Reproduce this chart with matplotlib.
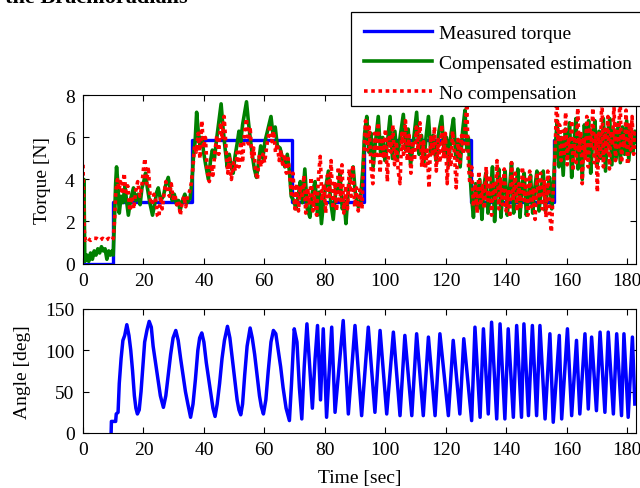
import matplotlib
matplotlib.use("Agg")
import matplotlib.pyplot as plt
from matplotlib.patches import Rectangle
import numpy as np

plt.rcParams["font.family"] = ["Liberation Serif", "DejaVu Serif"]
plt.rcParams["font.size"] = 14

# measured torque: step levels [N] and the times where each level starts [sec]
step_t = [0.0, 10.0, 36.0, 69.0, 93.0, 128.3, 156.0, 183.0]
step_v = [0.0, 2.95, 5.9, 2.95, 5.9, 2.95, 5.9, 5.9]

# compensated estimation (green)
green_t = [
    0.0, 0.3, 0.6, 1.3, 1.9, 2.5, 3.1, 3.7, 4.3, 4.9, 5.5, 6.1, 6.7, 7.3, 7.9, 8.5, 9.1, 9.6, 10.0,
    10.4, 10.8, 11.1, 11.5, 12.0, 12.6, 13.2, 13.9, 14.4, 15.0, 15.8, 16.7, 17.4, 18.2, 18.9, 19.5,
    20.1, 20.7, 21.3, 22.1, 23.0, 23.8, 24.4, 24.9, 25.7, 26.6, 27.3, 28.2, 28.9, 29.5, 30.2, 31.0,
    31.6, 32.1, 32.9, 33.7, 34.5, 35.4, 36.0,
    36.6, 37.1, 37.6, 38.2, 38.8, 39.4, 39.9, 40.6, 41.5, 42.2, 42.8, 43.5, 44.2, 45.0, 45.7, 46.3,
    47.0, 47.7, 48.4, 49.0, 49.7, 50.3, 51.0, 51.6, 52.2, 52.8, 53.4, 54.1, 54.7, 55.3, 56.0, 56.7,
    57.4, 58.1, 58.8, 59.5, 60.2, 61.2, 62.2, 62.9, 63.6, 64.3, 65.2, 66.0, 66.8, 67.6, 68.3, 68.9,
    69.7, 70.5, 71.2, 71.9, 72.6, 73.4, 74.2, 75.1, 75.9, 76.8, 77.6, 78.2, 78.9, 79.7, 80.5, 81.2,
    82.0, 82.8, 83.7, 84.4, 85.0, 85.8, 86.4, 87.0, 87.8, 88.6, 89.4, 90.2, 91.1, 91.8, 92.6,
    93.2, 93.9, 94.6, 95.3, 96.0, 96.8, 97.7, 98.5, 99.2, 99.9, 100.7, 101.6, 102.4, 103.2, 104.0,
    105.0, 106.0, 106.8, 107.6, 108.4, 109.4, 110.4, 111.2, 112.0, 112.8, 113.5, 114.3, 115.1, 115.9,
    116.8, 117.8, 118.7, 119.5, 120.3, 121.0, 121.8, 122.6, 123.4, 124.1, 124.8, 125.6, 126.4, 127.0,
    127.5, 128.0,
    128.5, 129.2, 129.9, 130.6, 131.3, 132.0, 132.6, 133.3, 134.0, 134.8, 135.5, 136.2, 136.9, 137.6,
    138.3, 139.0, 139.7, 140.4, 141.1, 141.8, 142.5, 143.2, 143.9, 144.6, 145.3, 146.0, 146.7, 147.4,
    148.1, 148.8, 149.5, 150.2, 150.9, 151.6, 152.3, 153.0, 153.7, 154.4, 155.1, 155.7,
    156.3, 156.9, 157.5, 158.2, 158.9, 159.6, 160.3, 161.0, 161.7, 162.4, 163.1, 163.8, 164.5, 165.2,
    165.9, 166.6, 167.3, 168.0, 168.7, 169.4, 170.1, 170.8, 171.5, 172.2, 172.9, 173.6, 174.3, 175.0,
    175.7, 176.4, 177.1, 177.8, 178.5, 179.2, 179.9, 180.6, 181.3, 182.0, 182.6, 183.0,
]
green_v = [
    0.2, 4.0, 0.1, 0.4, 0.1, 0.5, 0.2, 0.6, 0.4, 0.7, 0.5, 0.8, 0.6, 0.7, 0.2, 0.6, 0.4, 0.6, 0.4,
    2.0, 3.8, 4.6, 3.9, 2.4, 3.2, 2.9, 3.7, 3.0, 2.3, 3.1, 3.6, 3.0, 3.3, 2.8, 3.6,
    3.9, 4.3, 3.6, 2.9, 2.3, 2.9, 3.4, 3.6, 3.0, 3.2, 3.7, 4.1, 3.5, 3.0, 3.3, 2.8,
    3.0, 2.5, 3.0, 3.3, 2.9, 3.1, 3.8,
    5.2, 5.8, 7.2, 6.2, 5.6, 6.0, 5.3, 4.7, 4.0, 4.9, 5.4, 5.0, 5.9, 6.8, 7.6, 6.5,
    5.5, 4.6, 5.2, 4.6, 4.3, 5.1, 5.7, 6.3, 5.8, 6.6, 7.1, 7.7, 6.8, 6.0, 5.2, 4.5,
    4.1, 4.8, 5.6, 5.0, 5.8, 6.4, 7.0, 6.1, 6.5, 5.6, 5.5, 5.0, 4.6, 5.2, 4.4, 3.2,
    3.0, 2.6, 3.2, 3.9, 2.9, 4.5, 2.6, 2.2, 3.4, 3.9, 2.3, 3.4, 1.9, 3.1, 3.8, 4.4,
    2.9, 2.1, 3.6, 3.4, 4.3, 2.6, 3.0, 1.9, 3.5, 4.2, 4.6, 3.2, 2.7, 3.0, 4.5,
    6.2, 7.0, 5.3, 6.2, 4.6, 5.8, 7.0, 5.2, 6.0, 4.9, 5.7, 7.0, 5.0, 6.3, 5.0,
    6.1, 7.1, 5.4, 6.4, 4.7, 5.9, 7.2, 5.2, 6.1, 4.8, 6.0, 7.0, 5.3, 6.1,
    4.9, 6.3, 7.0, 5.2, 6.0, 4.7, 6.2, 6.9, 5.0, 5.9, 4.6, 6.3, 7.3, 5.4,
    6.0, 4.4,
    3.3, 2.2, 3.8, 2.6, 4.0, 2.1, 3.6, 4.3, 2.4, 3.3, 4.6, 2.0, 3.7, 4.5,
    2.2, 3.6, 4.4, 2.3, 3.5, 4.8, 2.4, 3.6, 4.5, 2.2, 3.8, 4.3, 2.3, 3.2,
    4.2, 2.4, 3.6, 4.4, 2.5, 3.5, 4.4, 2.5, 3.6, 4.1, 2.6, 3.8,
    5.6, 6.8, 4.6, 6.0, 4.2, 6.4, 5.0, 6.7, 4.1, 5.6, 6.9, 4.5, 6.1, 4.0,
    6.6, 5.1, 6.8, 4.3, 6.0, 6.8, 4.6, 6.3, 5.0, 6.9, 4.4, 6.2, 6.9, 4.7,
    6.4, 5.0, 6.7, 4.8, 6.5, 5.2, 6.8, 4.9, 6.4, 5.3, 6.3, 5.8,
]

# estimation without compensation (red)
red_t = [
    0.0, 0.2, 0.4, 0.8, 1.5, 2.5, 3.5, 4.5, 5.5, 6.5, 7.5, 8.5, 9.5, 10.0,
    10.4, 10.9, 11.4, 11.9, 12.4, 13.0, 13.6, 14.2, 14.8, 15.5, 16.2, 16.8, 17.5, 18.1, 18.8, 19.4,
    20.0, 20.5, 21.0, 21.6, 22.3, 22.9, 23.5, 24.1, 24.6, 25.1, 25.7, 26.2, 26.8, 27.4, 28.0, 28.6,
    29.2, 29.8, 30.4, 31.0, 31.6, 32.2, 32.8, 33.4, 34.0, 34.6, 35.2, 35.8,
    36.4, 36.9, 37.5, 38.1, 38.7, 39.3, 39.9, 40.5, 41.1, 41.8, 42.4, 43.0, 43.7, 44.3, 44.9, 45.5,
    46.1, 46.7, 47.3, 47.9, 48.5, 49.1, 49.8, 50.4, 51.0, 51.6, 52.2, 52.8, 53.4, 54.1, 54.7, 55.3,
    55.9, 56.5, 57.1, 57.7, 58.3, 58.9, 59.5, 60.1, 60.8, 61.4, 61.9, 62.5, 63.1, 63.7, 64.3, 64.9,
    65.5, 66.1, 66.7, 67.3, 67.9, 68.5, 69.0,
    69.5, 70.1, 70.7, 71.3, 71.9, 72.5, 73.1, 73.7, 74.3, 74.9, 75.5, 76.1, 76.7, 77.3, 77.9, 78.5,
    79.1, 79.7, 80.3, 80.9, 81.5, 82.1, 82.7, 83.3, 83.9, 84.5, 85.1, 85.7, 86.3, 86.9, 87.5, 88.1,
    88.7, 89.3, 89.9, 90.5, 91.1, 91.7, 92.3, 92.9,
    93.5, 94.1, 94.7, 95.3, 95.9, 96.5, 97.1, 97.7, 98.3, 98.9, 99.5, 100.1, 100.7, 101.3, 101.9,
    102.5, 103.1, 103.7, 104.3, 104.9, 105.5, 106.1, 106.7, 107.3, 107.9, 108.5, 109.1, 109.7, 110.3,
    110.9, 111.5, 112.1, 112.7, 113.3, 113.9, 114.5, 115.1, 115.7, 116.3, 116.9, 117.5, 118.1, 118.7,
    119.3, 119.9, 120.5, 121.1, 121.7, 122.3, 122.9, 123.5, 124.1, 124.7, 125.3, 125.9, 126.5, 127.0,
    127.5, 128.0,
    128.6, 129.2, 129.8, 130.4, 131.0, 131.6, 132.2, 132.8, 133.4, 134.0, 134.6, 135.2, 135.8, 136.4,
    137.0, 137.6, 138.2, 138.8, 139.4, 140.0, 140.6, 141.2, 141.8, 142.4, 143.0, 143.6, 144.2, 144.8,
    145.4, 146.0, 146.6, 147.2, 147.8, 148.4, 149.0, 149.6, 150.2, 150.8, 151.4, 152.0, 152.6, 153.2,
    153.8, 154.4, 155.0, 155.5, 156.0,
    156.4, 156.8, 157.2, 157.7, 158.2, 158.7, 159.2, 159.7, 160.2, 160.7, 161.2, 161.7, 162.2, 162.7,
    163.2, 163.7, 164.2, 164.7, 165.2, 165.7, 166.2, 166.7, 167.2, 167.7, 168.2, 168.7, 169.2, 169.7,
    170.2, 170.7, 171.2, 171.7, 172.2, 172.7, 173.2, 173.7, 174.2, 174.7, 175.2, 175.7, 176.2, 176.7,
    177.2, 177.7, 178.2, 178.7, 179.2, 179.7, 180.2, 180.7, 181.2, 181.7, 182.2, 182.7, 183.0,
]
red_v = [
    4.7, 3.0, 1.6, 1.1, 1.2, 1.1, 1.2, 1.2, 1.1, 1.2, 1.1, 1.2, 1.1, 1.2,
    2.0, 3.5, 4.0, 3.5, 3.9, 3.3, 4.3, 3.4, 3.7, 2.5, 3.2, 2.6, 3.5, 3.9, 3.2, 3.6,
    4.5, 5.0, 3.8, 4.6, 3.0, 2.8, 3.3, 3.0, 2.3, 2.2, 3.2, 2.6, 3.3, 3.9, 3.5, 3.2,
    3.8, 3.1, 3.3, 2.8, 3.0, 2.3, 2.9, 3.2, 2.7, 3.2, 3.4, 3.8,
    4.6, 5.6, 5.3, 6.2, 5.0, 6.8, 5.5, 6.0, 4.4, 3.9, 4.7, 4.2, 5.4, 6.1, 5.2, 6.7,
    5.9, 7.0, 5.6, 4.3, 5.0, 4.0, 4.8, 4.4, 5.3, 4.6, 5.8, 4.8, 6.2, 6.9, 5.7, 6.5,
    5.0, 5.5, 4.4, 4.0, 5.1, 4.6, 5.2, 4.8, 5.6, 6.1, 6.6, 5.8, 6.3, 5.3, 5.7, 4.9,
    5.4, 4.6, 5.2, 4.3, 5.0, 4.0, 3.3,
    4.3, 2.6, 3.8, 2.5, 3.7, 3.1, 4.2, 2.4, 3.6, 2.8, 4.1, 2.5, 3.4, 2.3, 4.1, 5.1,
    3.0, 3.8, 2.4, 4.2, 3.2, 4.9, 2.6, 3.9, 2.5, 4.6, 3.0, 4.7, 2.4, 3.7, 2.6, 4.5,
    3.2, 4.7, 2.7, 3.6, 2.5, 3.5, 2.6, 5.0,
    6.8, 5.4, 6.5, 4.6, 3.8, 6.2, 5.0, 6.7, 4.3, 6.0, 5.0, 6.4, 3.9, 6.0, 5.3,
    6.6, 4.7, 5.8, 4.4, 3.8, 6.2, 5.2, 6.8, 4.9, 6.1, 4.3, 5.7, 4.9, 6.5,
    5.4, 6.7, 4.6, 5.8, 4.5, 5.4, 3.6, 6.1, 5.1, 6.5, 4.4, 5.9, 4.8, 6.6,
    5.0, 6.2, 3.8, 5.5, 4.6, 6.3, 5.2, 3.6, 5.9, 4.8, 6.1, 5.2, 6.6, 7.6,
    4.8, 3.8,
    4.6, 2.7, 3.8, 2.4, 4.4, 2.9, 3.7, 2.6, 4.6, 3.0, 4.2, 2.3, 3.9, 3.1,
    4.9, 2.6, 4.1, 2.8, 4.5, 2.5, 3.5, 2.2, 4.8, 3.0, 4.3, 2.5, 3.8, 2.6,
    4.6, 3.0, 4.0, 2.3, 4.4, 2.7, 3.6, 2.1, 4.2, 2.9, 4.3, 2.6, 3.9, 2.2,
    4.4, 2.4, 1.5, 3.2, 4.4,
    6.2, 8.3, 5.8, 6.6, 4.9, 6.3, 5.1, 7.2, 4.7, 6.0, 5.4, 6.8, 4.4, 5.9,
    4.8, 7.4, 5.3, 6.3, 3.8, 6.0, 5.0, 7.0, 4.6, 6.5, 5.6, 7.4, 4.8, 6.1,
    3.4, 6.2, 5.1, 8.1, 4.6, 6.4, 5.2, 7.0, 4.5, 6.3, 5.6, 7.6, 4.9, 6.6,
    5.4, 8.2, 4.8, 6.2, 5.5, 7.3, 4.7, 6.7, 5.4, 7.0, 5.2, 6.2, 5.9,
]

# elbow angle [deg]
angle_t = [
    9.3, 9.4, 10.8, 11.0, 11.6, 12.0, 12.6, 13.2, 13.8, 14.5, 15.2, 15.8, 16.4, 17.0, 17.5, 18.0,
    18.6, 19.2, 19.8, 20.4, 21.2, 21.9, 22.6, 23.2, 24.0, 24.8, 25.6, 26.6, 27.4, 28.2, 29.0, 29.8,
    30.7, 31.5, 32.3, 33.1, 33.9, 34.7, 35.6, 36.4, 37.2, 38.0, 38.6, 39.3, 40.0, 40.8, 41.6, 42.4,
    43.0, 43.7, 44.4, 45.2, 46.0, 46.8, 47.8, 48.6, 49.4, 50.2, 51.0, 51.6, 52.2, 52.8, 53.5, 54.3,
    55.3, 56.0, 56.8, 57.6, 58.4, 59.0, 59.7, 60.5, 61.3, 62.2, 63.0, 63.8, 64.6, 65.4, 66.2, 67.2,
    68.3, 69.0, 69.9, 70.8, 71.6, 72.4, 73.2, 74.1, 75.0, 75.9, 76.8, 77.6, 78.6,
    79.5, 80.6, 82.3, 83.4, 86.1, 87.8, 90.0, 92.2, 94.4, 96.6, 98.3, 100.5, 102.7, 104.9, 106.5,
    108.8, 110.4, 112.6, 114.3, 116.5, 118.1, 120.9, 122.5, 124.7, 126.0, 128.6, 129.7, 131.4,
    132.5, 134.1, 135.2, 136.9, 138.0, 139.6, 140.7, 142.4, 143.5, 145.1, 145.9, 147.4, 148.7,
    150.1, 151.2, 152.9, 154.5, 155.6, 157.6, 158.4, 160.3, 161.7, 163.3, 164.4, 166.1, 167.2,
    168.3, 169.9, 171.1, 172.7, 173.8, 175.5, 176.6, 178.2, 179.0, 180.4, 181.8, 182.6,
]
angle_v = [
    0, 14, 14, 23, 25, 60, 90, 112, 118, 131, 118, 100, 75, 45, 30, 23,
    28, 50, 80, 110, 125, 135, 128, 105, 85, 65, 45, 31, 45, 70, 95, 115,
    124, 112, 90, 70, 50, 35, 19, 35, 65, 100, 115, 121, 110, 85, 65, 45,
    30, 20, 35, 60, 90, 112, 129, 115, 90, 65, 40, 28, 22, 35, 70, 105,
    127, 115, 95, 70, 45, 32, 23, 40, 75, 110, 124, 120, 100, 80, 55, 30,
    15, 60, 126, 110, 55, 17, 80, 132, 80, 30, 90, 130, 40,
    126, 19, 128, 25, 136, 23, 130, 21, 128, 25, 124, 23, 122, 21, 118,
    21, 120, 21, 116, 21, 120, 21, 112, 23, 114, 15, 128, 19,
    126, 23, 134, 17, 132, 17, 126, 19, 130, 19, 132, 21, 130,
    21, 130, 17, 120, 13, 118, 17, 126, 21, 112, 23, 120, 29,
    116, 27, 122, 25, 122, 23, 120, 21, 120, 19, 116, 35,
]

fig = plt.figure(figsize=(6.4, 4.89), dpi=100)
ax1 = fig.add_axes([0.1297, 0.4591, 0.8641, 0.3436])
ax2 = fig.add_axes([0.1297, 0.1125, 0.8641, 0.2536])

ax1.step(step_t, step_v, where="post", color="#0000ff", lw=2.4, label="Measured torque")
ax1.plot(green_t, green_v, color="#008000", lw=2.6, label="Compensated estimation")
ax1.plot(red_t, red_v, color="#ff0000", lw=2.6, linestyle=(0, (1, 1)), label="No compensation")
ax1.set_xlim(0, 183)
ax1.set_ylim(0, 8)
ax1.set_yticks([0, 2, 4, 6, 8])
ax1.set_xticks(np.arange(0, 181, 20))
ax1.set_ylabel("Torque [N]", labelpad=10)

ax2.plot(angle_t, angle_v, color="#0000ff", lw=2.5)
ax2.set_xlim(0, 183)
ax2.set_ylim(0, 150)
ax2.set_yticks([0, 50, 100, 150])
ax2.set_xticks(np.arange(0, 181, 20))
ax2.set_ylabel("Angle [deg]", labelpad=10)
ax2.set_xlabel("Time [sec]", labelpad=8)

for ax in (ax1, ax2):
    ax.tick_params(direction="in", top=True, right=True, length=4, width=0.8, pad=6)
    for s in ax.spines.values():
        s.set_linewidth(0.8)

# legend box: white panel that runs past the right edge of the figure
x0, y0 = 351 / 640, 1 - 107 / 489
box = Rectangle((x0, y0), 1.05 - x0, (107 - 13) / 489, transform=fig.transFigure,
                facecolor="white", edgecolor="black", linewidth=0.9, zorder=4)
fig.add_artist(box)
leg = fig.legend(loc="upper left", bbox_to_anchor=(x0, 1 - 13 / 489), frameon=False,
                 handlelength=3.5, handletextpad=0.4, labelspacing=0.62, borderpad=0.65,
                 borderaxespad=0)
leg.set_zorder(5)

fig.text(0.008, 1 - 3 / 489, "the Brachioradialis", fontsize=16, fontweight="bold", va="baseline")

fig.savefig("out.png", dpi=100)
